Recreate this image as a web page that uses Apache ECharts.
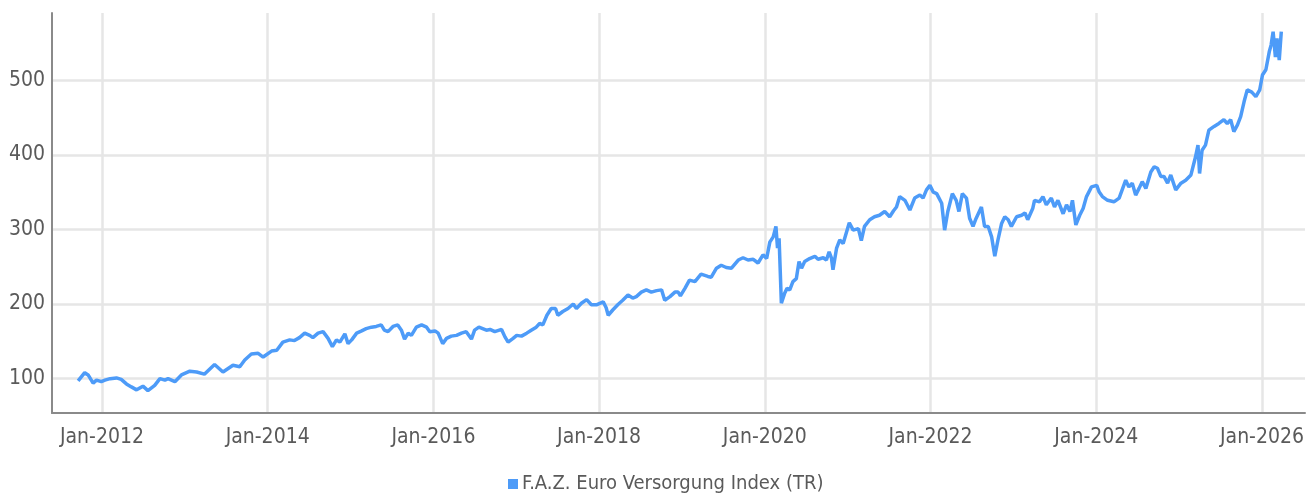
<!DOCTYPE html>
<html>
<head>
<meta charset="utf-8">
<script src="https://cdn.jsdelivr.net/npm/echarts@6/dist/echarts.min.js"></script>
<style>
  html, body { margin: 0; padding: 0; background: #fff; }
  #container { width: 1316px; height: 498px; }
</style>
</head>
<body>
<div id="container"></div>
<script>
  // index values, one row per year
  var dates = [
    '2011-09-18','2011-10-17','2011-11-01','2011-11-23','2011-12-08','2011-12-29',
    '2012-01-14','2012-02-06','2012-03-05','2012-03-26','2012-04-18','2012-05-10','2012-06-02','2012-06-30','2012-07-22','2012-08-21','2012-09-13','2012-10-05','2012-10-19','2012-11-18','2012-12-17',
    '2013-01-23','2013-02-22','2013-03-28','2013-05-12','2013-06-18','2013-08-01','2013-08-31','2013-09-22','2013-10-21','2013-11-20','2013-12-12',
    '2014-01-18','2014-02-10','2014-03-09','2014-04-08','2014-04-29','2014-05-21','2014-06-13','2014-07-05','2014-07-19','2014-08-11','2014-09-02','2014-09-24','2014-10-13','2014-10-31','2014-11-15','2014-12-07','2014-12-21',
    '2015-01-06','2015-01-28','2015-02-19','2015-03-11','2015-04-03','2015-04-24','2015-05-16','2015-05-30','2015-06-15','2015-07-07','2015-07-28','2015-08-13','2015-08-27','2015-09-12','2015-09-26','2015-10-18','2015-11-10','2015-12-02','2015-12-16',
    '2016-01-08','2016-01-22','2016-02-11','2016-02-28','2016-03-20','2016-04-12','2016-05-04','2016-05-25','2016-06-17','2016-07-01','2016-07-20','2016-08-22','2016-09-07','2016-09-28','2016-10-28','2016-11-12','2016-11-26','2016-12-18',
    '2017-01-03','2017-01-24','2017-02-16','2017-03-08','2017-03-30','2017-04-14','2017-04-28','2017-05-16','2017-06-04','2017-06-23','2017-07-03','2017-07-25','2017-08-17','2017-09-09','2017-09-23','2017-10-15','2017-11-07','2017-11-28','2017-12-20',
    '2018-01-19','2018-02-01','2018-02-10','2018-03-02','2018-03-24','2018-04-15','2018-05-08','2018-05-29','2018-06-14','2018-07-06','2018-07-28','2018-08-19','2018-09-11','2018-10-03','2018-10-17','2018-11-09','2018-12-01','2018-12-15','2018-12-25',
    '2019-01-14','2019-02-03','2019-02-27','2019-03-26','2019-04-25','2019-05-10','2019-06-02','2019-06-23','2019-07-15','2019-08-07','2019-09-06','2019-09-27','2019-10-19','2019-11-11','2019-12-02','2019-12-24',
    '2020-01-09','2020-01-23','2020-02-07','2020-02-19','2020-02-26','2020-03-04','2020-03-14','2020-03-28','2020-04-08','2020-04-20','2020-05-04','2020-05-19','2020-05-31','2020-06-11','2020-06-25','2020-07-17','2020-08-09','2020-08-23','2020-09-15','2020-09-29','2020-10-11','2020-10-21','2020-10-28','2020-11-13','2020-11-27','2020-12-12',
    '2021-01-08','2021-01-25','2021-02-17','2021-03-02','2021-03-16','2021-04-08','2021-04-29','2021-05-21','2021-06-13','2021-07-05','2021-07-22','2021-08-04','2021-08-18','2021-09-10','2021-10-02','2021-10-23','2021-11-15','2021-11-29','2021-12-14','2021-12-29',
    '2022-01-13','2022-01-28','2022-02-19','2022-03-04','2022-03-18','2022-04-07','2022-04-24','2022-05-06','2022-05-21','2022-06-08','2022-06-22','2022-07-07','2022-07-21','2022-08-13','2022-08-27','2022-09-12','2022-09-27','2022-10-11','2022-10-25','2022-11-10','2022-11-24','2022-12-09','2022-12-23',
    '2023-01-15','2023-02-06','2023-02-21','2023-03-05','2023-03-27','2023-04-04','2023-04-26','2023-05-11','2023-05-26','2023-06-17','2023-07-01','2023-07-16','2023-08-08','2023-08-23','2023-09-07','2023-09-18','2023-10-03','2023-10-20','2023-11-04','2023-11-19','2023-12-11',
    '2024-01-03','2024-01-14','2024-01-28','2024-02-20','2024-03-19','2024-04-11','2024-05-10','2024-05-24','2024-06-08','2024-06-23','2024-07-08','2024-07-22','2024-08-07','2024-08-29','2024-09-13','2024-09-27','2024-10-12','2024-10-26','2024-11-11','2024-11-25','2024-12-17',
    '2025-01-09','2025-01-30','2025-02-22','2025-03-14','2025-03-25','2025-04-01','2025-04-12','2025-04-27','2025-05-12','2025-06-04','2025-06-25','2025-07-17','2025-08-01','2025-08-16','2025-08-30','2025-09-15','2025-09-29','2025-10-14','2025-10-28','2025-11-17','2025-12-05','2025-12-22',
    '2026-01-03','2026-01-18','2026-02-02','2026-02-10','2026-02-19','2026-03-01','2026-03-08','2026-03-18','2026-03-27'
  ];
  var values = [
    97,108,105,94,98,96,
    98,100,101,99,93,89,85,90,84,91,100,98,100,96,105,
    110,109,106,119,109,118,116,125,133,134,129,
    137,138,149,152,151,155,161,158,155,161,163,154,143,152,149,160,147,
    152,161,164,167,169,170,172,165,163,170,172,165,153,161,158,169,172,169,163,
    164,161,147,154,157,158,161,163,153,165,169,165,166,163,166,156,149,154,
    158,157,161,165,169,174,172,185,194,194,185,190,194,200,194,201,206,199,199,
    203,195,185,192,199,205,212,208,210,216,219,216,218,219,205,210,216,216,211,
    221,232,230,240,237,236,248,252,249,248,259,262,259,260,255,266,
    261,283,290,304,275,288,201,214,221,219,230,234,257,248,257,261,264,260,262,259,270,262,246,275,286,281,
    309,299,301,285,304,313,317,319,324,317,325,330,344,339,326,342,346,342,353,359,
    350,348,335,299,324,348,339,324,348,342,315,304,315,330,304,304,290,264,286,308,317,313,304,
    317,319,322,313,328,339,337,344,333,342,330,339,321,333,324,339,306,319,328,344,357,
    359,350,344,339,337,342,366,357,362,346,355,364,355,377,384,382,371,371,362,373,353,
    362,366,373,397,413,375,406,413,433,438,442,447,442,447,431,440,451,471,487,484,478,487,
    507,514,538,547,565,531,556,527,565
  ];
  var seriesName = 'F.A.Z. Euro Versorgung Index (TR)';
  var yLabels = [100, 200, 300, 400, 500];

  // date string -> fractional year, so the x axis can tick every two years at January
  function toYear(s){
    var d = new Date(s + 'T00:00:00Z');
    var y = d.getUTCFullYear();
    var start = Date.UTC(y, 0, 1), end = Date.UTC(y + 1, 0, 1);
    return y + (d.getTime() - start) / (end - start);
  }

  var lineData = [];
  for (var i = 0; i < dates.length; i++) {
    lineData.push([toYear(dates[i]), values[i]]);
  }

  var font = "'Liberation Sans Narrow', 'DejaVu Sans Condensed', sans-serif";
  var txt = '#5a5a5a';

  var dom = document.getElementById("container");
  var myChart = echarts.init(dom, null, {renderer: 'canvas'});
  var option = null;
  option = {
      animation: false,
      grid: { left: 52, right: 11, top: 13, bottom: 85, containLabel: false },
      legend: {
          data: [seriesName],
          left: 508,
          top: 474,
          padding: 0,
          icon: 'rect',
          itemWidth: 10,
          itemHeight: 10,
          textStyle: { fontFamily: font, fontSize: 20, color: txt, padding: [0, 0, 0, -1] }
      },
      xAxis: {
          type: 'value',
          min: 2011.397,
          max: 2026.519,
          minInterval: 2,
          maxInterval: 2,
          axisLine: { lineStyle: { color: '#8a8a8a', width: 2 } },
          axisTick: { show: false },
          axisLabel: {
              fontFamily: font, fontSize: 21, color: txt, margin: 14,
              showMinLabel: false, showMaxLabel: false,
              formatter: function (v) {
                  var y = Math.round(v);
                  if (Math.abs(v - y) > 0.001 || y % 2 !== 0) return '';
                  return 'Jan-' + y;
              }
          },
          splitLine: { show: true, showMinLine: false, showMaxLine: false, lineStyle: { color: '#e6e6e6', width: 2.5 } }
      },
      yAxis: {
          type: 'value',
          min: 54,
          max: 590,
          splitNumber: 5,
          axisLine: { show: true, lineStyle: { color: '#8a8a8a', width: 2 } },
          axisTick: { show: false },
          axisLabel: {
              fontFamily: font, fontSize: 21, color: txt, margin: 7,
              showMinLabel: false, showMaxLabel: false,
              formatter: function (v) {
                  return yLabels.indexOf(Math.round(v)) >= 0 && Math.abs(v - Math.round(v)) < 0.001 ? String(Math.round(v)) : '';
              }
          },
          splitLine: { show: true, showMinLine: false, showMaxLine: false, lineStyle: { color: '#e6e6e6', width: 2.5 } }
      },
      series: [{
          name: seriesName,
          type: 'line',
          data: lineData,
          showSymbol: false,
          symbol: 'none',
          color: '#4d9bf8',
          lineStyle: { color: '#4d9bf8', width: 3.5 }
      }]
  };
  if (option && typeof option === "object") {
      myChart.setOption(option, true);
  }
</script>
</body>
</html>
